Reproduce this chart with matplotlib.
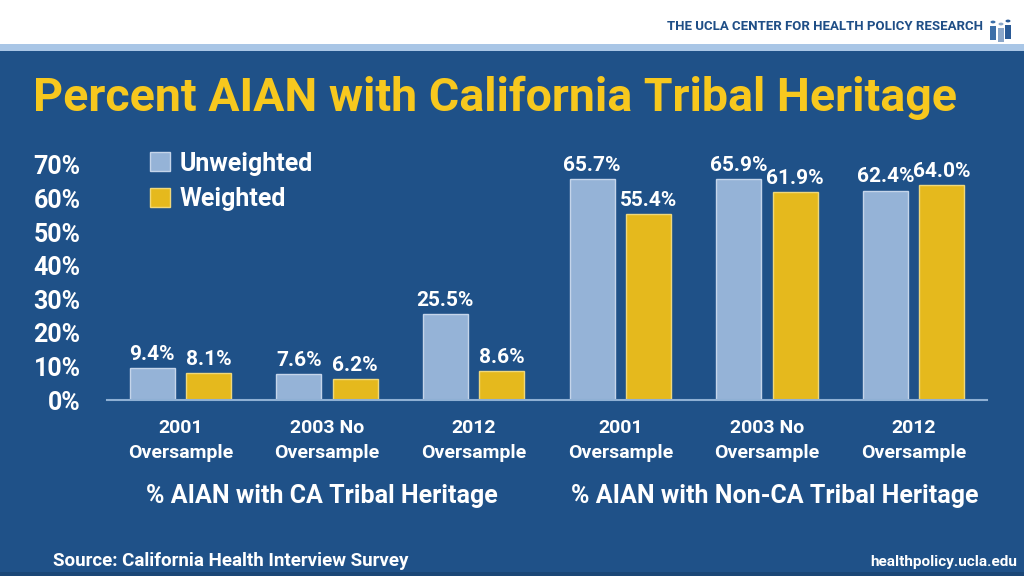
import matplotlib
matplotlib.use("Agg")
import matplotlib.pyplot as plt
from matplotlib.patches import Rectangle, Circle
import numpy as np

categories = ["2001\nOversample", "2003 No\nOversample", "2012\nOversample",
              "2001\nOversample", "2003 No\nOversample", "2012\nOversample"]
unweighted = [9.4, 7.6, 25.5, 65.7, 65.9, 62.4]
weighted = [8.1, 6.2, 8.6, 55.4, 61.9, 64.0]
yticks = [0, 10, 20, 30, 40, 50, 60, 70]
group_labels = ["% AIAN with CA Tribal Heritage", "% AIAN with Non-CA Tribal Heritage"]

BG = "#1f5188"
LIGHT = "#95b3d7"
YELLOW = "#e5b91d"
TITLE = "#f7c81e"

plt.rcParams['font.family'] = ['Roboto', 'DejaVu Sans']

fig = plt.figure(figsize=(10.24, 5.76), dpi=100)
fig.patch.set_facecolor(BG)

# header band
fig.patches.append(Rectangle((0, 1 - 44/576), 1, 44/576, transform=fig.transFigure,
                             facecolor="white", edgecolor="none", zorder=0))
fig.patches.append(Rectangle((0, 1 - 51/576), 1, 7/576, transform=fig.transFigure,
                             facecolor="#a9c6e6", edgecolor="none", zorder=0))
fig.patches.append(Rectangle((0, 0), 1, 4/576, transform=fig.transFigure,
                             facecolor="#1a4676", edgecolor="none", zorder=0))
fig.text(983/1024, 1 - 26/576, "THE UCLA CENTER FOR HEALTH POLICY RESEARCH",
         ha="right", va="center", color="#1f4e86", fontsize=9.5, fontweight="bold")
# little people icon
for px, py, c in [(993, 22, "#3d6fa8"), (1001, 24, "#8aa6c9"), (1008, 21, "#2a5a96")]:
    fig.patches.append(Circle((px/1024, 1 - py/576), 2.5/1024, transform=fig.transFigure,
                              facecolor=c, edgecolor="none"))
    fig.patches.append(Rectangle(((px - 3)/1024, 1 - (py + 18)/576), 6/1024, 14/576,
                                 transform=fig.transFigure, facecolor=c, edgecolor="none"))

fig.text(33/1024, 1 - 98/576, "Percent AIAN with California Tribal Heritage",
         ha="left", va="center", color=TITLE, fontsize=33.5, fontweight="bold")

ax = fig.add_axes([107/1024, (576 - 400)/576, 880/1024, 235/576])
ax.set_facecolor(BG)
x = np.arange(len(categories))
w = 0.307
off = 0.193
b1 = ax.bar(x - off, unweighted, w, color=LIGHT, edgecolor="#c5d5ea", linewidth=1, label="Unweighted")
b2 = ax.bar(x + off, weighted, w, color=YELLOW, edgecolor="#f0d87a", linewidth=1, label="Weighted")

for bars, vals in [(b1, unweighted), (b2, weighted)]:
    for r, v in zip(bars, vals):
        ax.annotate(f"{v:.1f}%", (r.get_x() + r.get_width()/2, v), xytext=(0, 3),
                    textcoords="offset points", ha="center", va="bottom",
                    color="white", fontsize=15, fontweight="bold", annotation_clip=False)

ax.set_xlim(-0.5, 5.5)
ax.set_ylim(0, 70)
ax.set_yticks(yticks)
ax.set_yticklabels([f"{t}%" for t in yticks])
ax.set_xticks(x)
ax.set_xticklabels(categories, linespacing=1.55)
ax.tick_params(axis="y", length=0, pad=19, labelsize=18, labelcolor="white")
ax.tick_params(axis="x", length=0, pad=13.5, labelsize=14, labelcolor="white")
for lab in ax.get_yticklabels() + ax.get_xticklabels():
    lab.set_fontweight("bold")
for s in ["top", "right", "left"]:
    ax.spines[s].set_visible(False)
ax.spines["bottom"].set_color("#8fb0d4")
ax.spines["bottom"].set_linewidth(1.5)

leg = ax.legend(loc="upper left", bbox_to_anchor=(20/880, 1.153), frameon=False,
                handlelength=0.8, handleheight=0.8, handletextpad=0.4, labelspacing=0.45,
                prop={"size": 18, "weight": "bold"})
for t in leg.get_texts():
    t.set_color("white")

fig.text(322/1024, 1 - 496/576, group_labels[0], ha="center", va="center",
         color="white", fontsize=18, fontweight="bold")
fig.text(775/1024, 1 - 496/576, group_labels[1], ha="center", va="center",
         color="white", fontsize=18, fontweight="bold")

fig.text(53/1024, 1 - 561/576, "Source: California Health Interview Survey",
         ha="left", va="center", color="white", fontsize=13.5, fontweight="bold")
fig.text(1017/1024, 1 - 562/576, "healthpolicy.ucla.edu",
         ha="right", va="center", color="white", fontsize=11, fontweight="bold")

fig.savefig("out.png", dpi=100, facecolor=BG)
